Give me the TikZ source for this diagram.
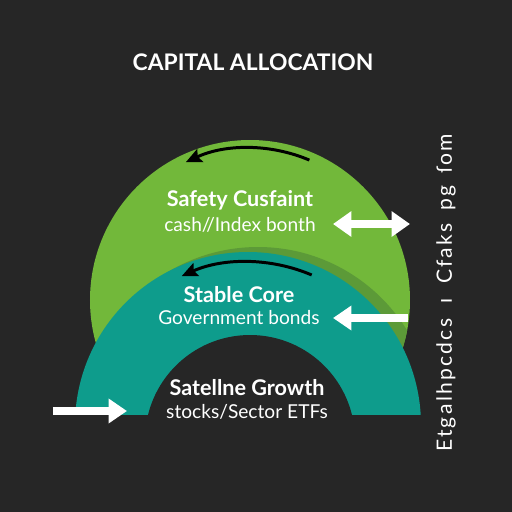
\documentclass[tikz,border=0pt]{standalone}
\usepackage{fontspec}
\setmainfont{Lato}
\usetikzlibrary{arrows.meta}
\definecolor{bgdark}{HTML}{262626}
\definecolor{safegreen}{HTML}{72B83A}
\definecolor{shadegreen}{HTML}{5C9A38}
\definecolor{coreteal}{HTML}{0E9C8C}
\begin{document}
\begin{tikzpicture}[x=0.02cm,y=-0.02cm,
title/.style={text=white,font=\bfseries\fontsize{13}{15}\selectfont},
head/.style={text=white,font=\bfseries\fontsize{12.3}{14}\selectfont},
sub/.style={text=white,font=\fontsize{10.9}{13}\selectfont},
side/.style={text=white,font=\fontsize{12}{14}\selectfont\addfontfeature{LetterSpace=11}},
turn/.style={line width=1.7pt,-{Stealth[length=9pt,width=8pt,inset=1.5pt]}},
flow/.style={white,line width=4pt,-{Triangle[length=10.5pt,width=13.5pt]}},
both/.style={white,line width=4pt,{Triangle[length=10.5pt,width=14pt]}-{Triangle[length=10.5pt,width=14pt]}}
]
\fill[bgdark] (0,0) rectangle (512,512);
\useasboundingbox (0,0) rectangle (512,512);
% rings
\coordinate (safe centre) at (250,300);
\coordinate (core centre) at (248,425);
\fill[safegreen] (safe centre) circle[radius=160];
\begin{scope}
\clip (safe centre) circle[radius=160];
\fill[shadegreen] (258,422) circle[radius=175];
\end{scope}
\fill[coreteal] (core centre) circle[radius=173];
\fill[bgdark] (250,440) circle[radius=105];
\fill[bgdark] (0,415) rectangle (512,512);

\node[title] (title) at (253,62) {CAPITAL ALLOCATION};

\node[head] (safety) at (240,200) {Safety Cusfaint};
\node[sub] (safety sub) at (240,225) {cash//Index bonth};
\node[head] (core) at (239,295) {Stable Core};
\node[sub] (core sub) at (239,318) {Government bonds};
\node[head] (growth) at (247,388) {Satellne Growth};
\node[sub] (growth sub) at (247,412) {stocks/Sector ETFs};

\node[side,rotate=90] (side) at (446,293) {Etgalhpcdcs\hspace{4pt} ı \hspace{4pt}Cfaks\hspace{3pt} pg\hspace{2pt} ſom};

% turning arrows
\draw[turn] (safe centre) ++(-67:152) arc[start angle=-67,end angle=-115,radius=152];
\draw[turn] (core centre) ++(-67:163) arc[start angle=-67,end angle=-114,radius=163];

% side arrows
\coordinate (swap a) at (333,224);
\coordinate (swap b) at (410,224);
\coordinate (core in) at (408,318);
\coordinate (core at) at (333,318);
\coordinate (growth from) at (53,411);
\coordinate (growth in) at (127,411);
\draw[both] (swap a) -- (swap b);
\draw[flow] (core in) -- (core at);
\draw[flow] (growth from) -- (growth in);
\end{tikzpicture}
\end{document}
